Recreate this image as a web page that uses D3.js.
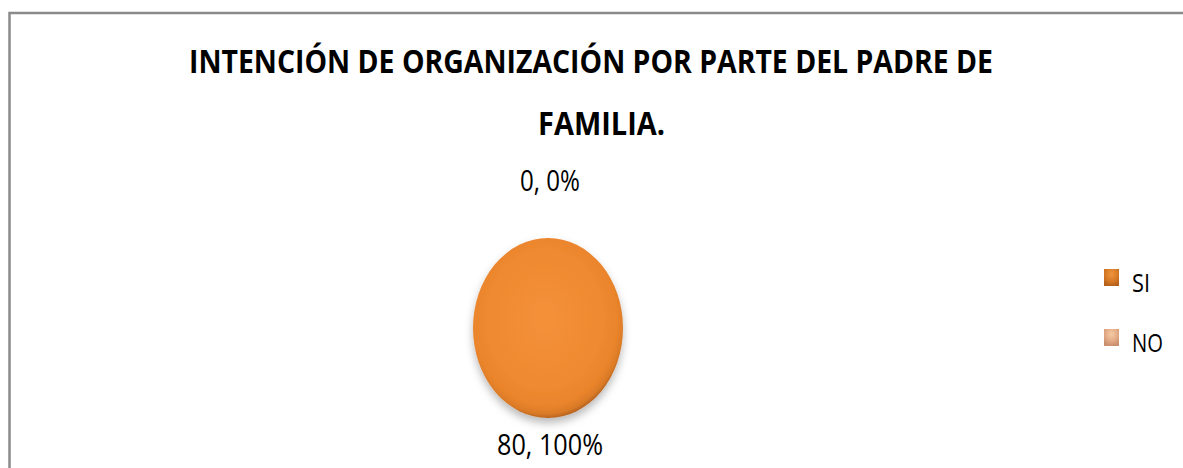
<!DOCTYPE html>
<html>
<head>
<meta charset="utf-8">
<script src="https://cdn.jsdelivr.net/npm/d3@7"></script>
<style>
  html, body { margin: 0; padding: 0; background: #fff; }
  svg { display: block; }
</style>
</head>
<body>
<svg id="chart" width="1183" height="468"></svg>
<script>
const titleLines = ["INTENCIÓN DE ORGANIZACIÓN POR PARTE DEL PADRE DE", "FAMILIA."];
const categories = ["SI", "NO"];
const values = [80, 0];
const percents = ["100%", "0%"];

const svg = d3.select("#chart");
const W = 1183, H = 468;
const FONT = "'Liberation Sans Narrow', 'Open Sans', 'Noto Sans', sans-serif";

const defs = svg.append("defs");

// Pie gradient
const pg = defs.append("radialGradient").attr("id", "pieGrad")
  .attr("cx", "48%").attr("cy", "45%").attr("r", "55%");
[["0%", "#F4913A"], ["70%", "#EF8930"], ["88%", "#EA842C"], ["96%", "#DA7A27"], ["100%", "#B9651F"]]
  .forEach(([o, c]) => pg.append("stop").attr("offset", o).attr("stop-color", c));

const shadow = defs.append("filter").attr("id", "shadow")
  .attr("x", "-30%").attr("y", "-30%").attr("width", "160%").attr("height", "170%");
shadow.append("feDropShadow").attr("dx", 0).attr("dy", 5).attr("stdDeviation", 4)
  .attr("flood-color", "#000").attr("flood-opacity", 0.28);

const legendColors = {
  SI: ["#F0943D", "#D77A25", "#B5611B"],
  NO: ["#F6CBA6", "#E3A985", "#C98F6E"]
};
categories.forEach((c, i) => {
  const g = defs.append("radialGradient").attr("id", "lg" + i)
    .attr("cx", "50%").attr("cy", "30%").attr("r", "70%");
  g.append("stop").attr("offset", "0%").attr("stop-color", legendColors[c][0]);
  g.append("stop").attr("offset", "60%").attr("stop-color", legendColors[c][1]);
  g.append("stop").attr("offset", "100%").attr("stop-color", legendColors[c][2]);
});

// Border (chart area frame, clipped at right/bottom)
svg.append("rect")
  .attr("x", 9.5).attr("y", 13).attr("width", W + 20).attr("height", H + 20)
  .attr("fill", "none").attr("stroke", "#8a8a8a").attr("stroke-width", 2.5);

// Title
const titleBox = [
  { x0: 189, x1: 993, y: 73 },
  { x0: 538, x1: 665, y: 135 }
];
titleLines.forEach((t, i) => {
  const b = titleBox[i];
  svg.append("text")
    .attr("x", b.x0).attr("y", b.y)
    .attr("font-family", FONT).attr("font-weight", "bold")
    .attr("font-size", 32).attr("fill", "#000")
    .attr("textLength", b.x1 - b.x0).attr("lengthAdjust", "spacingAndGlyphs")
    .text(t);
});

// Pie (elliptical via scale)
const cx = 548, cy = 328, rx = 75, ry = 90;
const data = categories.map((c, i) => ({ cat: c, value: values[i], pct: percents[i] }));
const pie = d3.pie().value(d => d.value).sort(null);
const arcs = pie(data);
const arc = d3.arc().innerRadius(0).outerRadius(1);

const pieG = svg.append("g").attr("filter", "url(#shadow)");
pieG.selectAll("path").data(arcs).join("path")
  .attr("transform", `translate(${cx},${cy}) scale(${rx},${ry})`)
  .attr("d", arc)
  .attr("fill", (d, i) => i === 0 ? "url(#pieGrad)" : "#E3A985")
  .attr("stroke", "none");

// Labels
arcs.forEach(d => {
  const a = (d.startAngle + d.endAngle) / 2;
  const off = d.data.value === 0 ? 59 : 25;
  const x = cx + Math.sin(a) * rx;
  const y = cy - Math.cos(a) * (ry + off);
  const str = `${d.data.value}, ${d.data.pct}`;
  svg.append("text")
    .attr("x", x + 2).attr("y", y)
    .attr("text-anchor", "middle").attr("dominant-baseline", "central")
    .attr("font-family", FONT).attr("font-size", 29).attr("fill", "#000")
    .attr("textLength", d.data.value === 0 ? 60 : 106).attr("lengthAdjust", "spacingAndGlyphs")
    .text(str);
});

// Legend
const legY = d3.scalePoint().domain(categories).range([283, 343]);
const leg = svg.append("g");
categories.forEach((c, i) => {
  const y = legY(c);
  leg.append("rect")
    .attr("x", 1104).attr("y", y - 14).attr("width", 15).attr("height", 17)
    .attr("fill", `url(#lg${i})`);
  leg.append("text")
    .attr("x", 1132).attr("y", y + 9)
    .attr("font-family", FONT).attr("font-size", 26).attr("fill", "#000")
    .attr("textLength", c === "SI" ? 18 : 31).attr("lengthAdjust", "spacingAndGlyphs")
    .text(c);
});
</script>
</body>
</html>
